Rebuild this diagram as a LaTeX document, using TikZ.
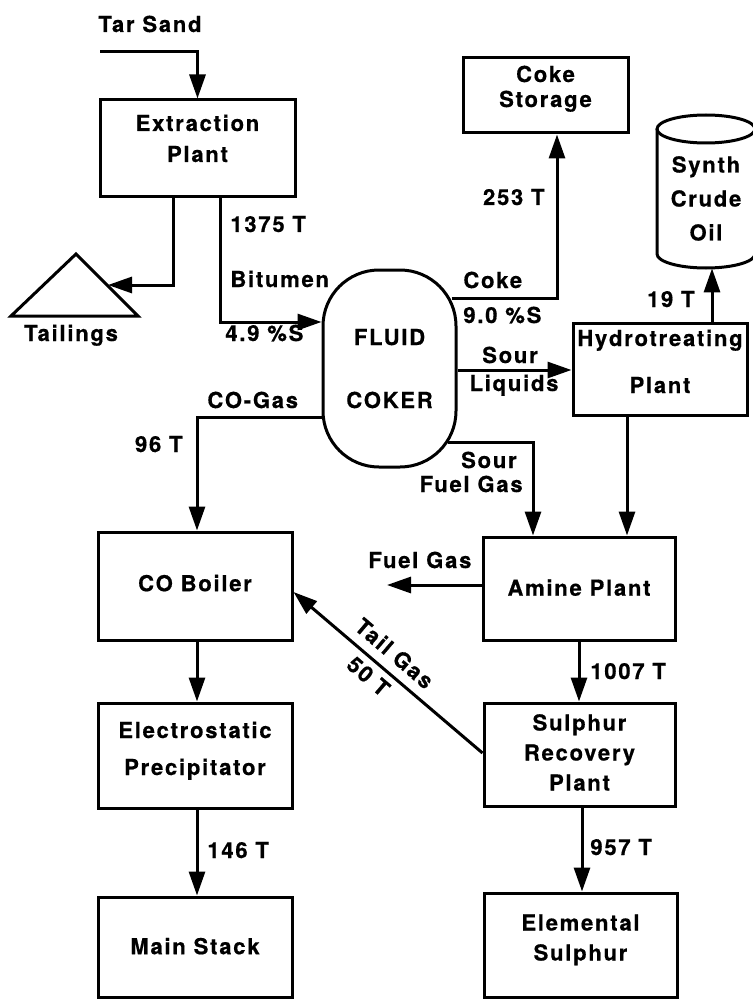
\documentclass[tikz,border=0pt]{standalone}
\usepackage{fontspec}
\newfontfamily\labfont[LetterSpace=8,FakeBold=0.6]{TeX Gyre Heros}
\usetikzlibrary{arrows.meta,calc}
\newcommand\btx[2]{\raisebox{#1}[\height][\depth]{\begin{tabular}{@{}c@{}}#2\end{tabular}}}
\begin{document}
\begin{tikzpicture}[x=0.5pt,y=-0.5pt,
  every node/.style={font=\labfont\bfseries\fontsize{11}{13}\selectfont},
  ln/.style={line width=1.5pt},
  arr/.style={ln,-{Triangle[length=12pt,width=8pt]}},
  blk/.style={draw,line width=1.5pt,inner sep=0pt},
  lab/.style={inner sep=0pt}]
\useasboundingbox (0,0) rectangle (752,1000);

% boxes
\node[blk,minimum width=97.5pt,minimum height=48.5pt] (ext) at (197.5,148.5) {\btx{3.6pt}{Extraction\\[2.5pt]Plant}};
\node[blk,minimum width=82.5pt,minimum height=37.5pt] (cokest) at (545.5,95.5) {\btx{3.1pt}{Coke\\[-0.5pt]Storage}};
\node[blk,minimum width=87pt,minimum height=46pt] (hydro) at (660,369) {\btx{2.35pt}{Hydrotreating\\[10.5pt]Plant}};
\node[blk,rounded corners=28pt,minimum width=66.5pt,minimum height=98.5pt] (coker) at (389.5,368.5) {\btx{-1.4pt}{FLUID\\[18.5pt]COKER}};
\node[blk,minimum width=97pt,minimum height=54pt] (coboil) at (195,586) {\btx{0pt}{CO Boiler}};
\node[blk,minimum width=96pt,minimum height=51.5pt] (amine) at (579,588.5) {\btx{-1pt}{Amine Plant}};
\node[blk,minimum width=97pt,minimum height=52.5pt] (esp) at (195,755.5) {\btx{2.1pt}{Electrostatic\\[5.5pt]Precipitator}};
\node[blk,minimum width=95.5pt,minimum height=51.5pt] (srp) at (579.5,754.5) {\btx{-0.4pt}{Sulphur\\[2pt]Recovery\\[2pt]Plant}};
\node[blk,minimum width=97pt,minimum height=50pt] (stack) at (195,947) {\btx{-1pt}{Main Stack}};
\node[blk,minimum width=96.5pt,minimum height=52pt] (elem) at (580.5,945) {\btx{2.35pt}{Elemental\\[2pt]Sulphur}};
\node[inner sep=0pt,minimum width=49pt,minimum height=76.5pt] (oil) at (706,191.5) {\btx{-4.9pt}{Synth\\[4pt]Crude\\[4pt]Oil}};

% cylinder outline
\draw[ln] (706,129) ellipse [x radius=24.5pt, y radius=7pt];
\draw[ln] (657,129) -- (657,254) arc[start angle=180,end angle=360,x radius=24.5pt,y radius=7pt] -- (755,129);

% tailings pile
\draw[ln] (76,254) -- (11,316) -- (138,316) -- cycle;
\coordinate (tailtip) at (108,285);
\coordinate (tarin) at (100,52);
\coordinate (fuelout) at (387,585);

% labels
\node[lab,anchor=base] (tarsand) at (150,32) {Tar Sand};
\node[lab,anchor=base] (tail) at (71,341) {Tailings};
\node[lab,anchor=base west] (l1375) at (230,232) {1375 T};
\node[lab,anchor=base west] (lbit) at (230,287) {Bitumen};
\node[lab,anchor=base west] (l49) at (225,341) {4.9 \%S};
\node[lab,anchor=base west] (lcoke) at (463,288) {Coke};
\node[lab,anchor=base west] (l90) at (463,323) {9.0 \%S};
\node[lab,anchor=base east] (l253) at (545,205) {253 T};
\node[lab,anchor=base] (lsour1) at (510,363) {Sour};
\node[lab,anchor=base] (lliq) at (514,391) {Liquids};
\node[lab,anchor=base east] (l19) at (695,307) {19 T};
\node[lab,anchor=base west] (lcog) at (207,408) {CO-Gas};
\node[lab,anchor=base east] (l96) at (183,452) {96 T};
\node[lab,anchor=base east] (lsour2) at (517,468) {Sour};
\node[lab,anchor=base east] (lfg1) at (523,492) {Fuel Gas};
\node[lab,anchor=base west] (lfg2) at (368,568) {Fuel Gas};
\node[lab,anchor=base west] (l1007) at (590,679) {1007 T};
\node[lab,anchor=base west] (l146) at (207,858) {146 T};
\node[lab,anchor=base west] (l957) at (590,855) {957 T};

% connectors
\draw[arr] (tarin) -| (ext.north);
\draw[arr] (173,0 |- ext.south) |- (tailtip);
\draw[arr] (220,0 |- ext.south) |- (coker.west |- 0,322);
\draw[arr] ([xshift=-3pt]coker.east |- 0,298) -| (557,0 |- cokest.south);
\draw[arr] (coker.east |- 0,370) -- (hydro.west |- 0,370);
\draw[arr] (712,0 |- hydro.north) -- (712,0 |- oil.south);
\draw[arr] (coker.west |- 0,417) -| (197,0 |- coboil.north);
\draw[arr] ([xshift=-5pt]coker.east |- 0,442) -| (533,0 |- amine.north);
\draw[arr] (627,0 |- hydro.south) -- (627,0 |- amine.north);
\draw[arr] (amine.west |- fuelout) -- (fuelout);
\draw[arr] (amine.south) -- (amine.south |- srp.north);
\draw[arr] (srp.west |- 0,753) -- node[lab,sloped,above=4.5pt,pos=0.53] (ltg) {Tail Gas} node[lab,sloped,below=3pt,pos=0.55] (l50) {50 T} (coboil.east |- 0,592);
\draw[arr] (582,0 |- srp.south) -- (582,0 |- elem.north);
\draw[arr] (197,0 |- coboil.south) -- (197,0 |- esp.north);
\draw[arr] (197,0 |- esp.south) -- (197,0 |- stack.north);
\end{tikzpicture}
\end{document}
